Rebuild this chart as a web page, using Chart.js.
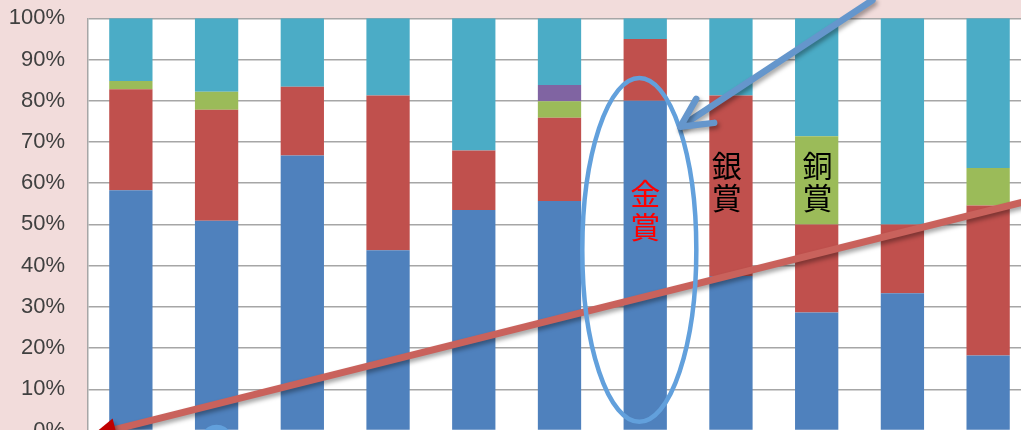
<!DOCTYPE html>
<html>
<head>
<meta charset="utf-8">
<script src="https://cdn.jsdelivr.net/npm/chart.js@4/dist/chart.umd.min.js"></script>
<style>
  html, body { margin: 0; padding: 0; background: #f2dcdb; overflow: hidden; width: 1021px; height: 430px; }
  #c { position: absolute; left: 0; top: 0; width: 1040px; height: 460px; }
</style>
</head>
<body>
<canvas id="c" width="1040" height="460"></canvas>
<script>
// ---- data (percent of each bar) ----
const categories = ['1','2','3','4','5','6','7','8','9','10','11'];
const gold   = [58.3, 50.9, 66.7, 43.75, 53.5, 55.7, 80.0, 37.5, 28.6, 33.3, 18.2];
const silver = [24.5, 26.9, 16.7, 37.5, 14.4, 20.2, 15.0, 43.75, 21.4, 16.7, 36.4];
const bronze = [2.0, 4.4, 0, 0, 0, 4.0, 0, 0, 21.4, 0, 9.1];
const other  = [0, 0, 0, 0, 0, 3.9, 0, 0, 0, 0, 0];
const none   = [15.2, 17.8, 16.6, 18.75, 32.1, 16.2, 5.0, 18.75, 28.6, 50.0, 36.3];
const yTicks = [0, 10, 20, 30, 40, 50, 60, 70, 80, 90, 100];

// annotation labels (category index, percent for each character)
const awardLabels = [
  { text: ['金', '賞'], idx: 6,    y: [57.4, 49.4], color: '#ff0000' },
  { text: ['銀', '賞'], idx: 6.95, y: [64.2, 56.6], color: '#000000' },
  { text: ['銅', '賞'], idx: 8.01, y: [64.2, 56.6], color: '#000000' }
];

const plotBg = {
  id: 'plotBg',
  beforeDraw(chart) {
    const { ctx, chartArea: a } = chart;
    ctx.save();
    ctx.fillStyle = '#ffffff';
    ctx.fillRect(a.left, a.top, a.right - a.left, a.bottom - a.top);
    ctx.restore();
  }
};

const overlay = {
  id: 'overlay',
  afterDraw(chart) {
    const ctx = chart.ctx;
    const xs = chart.scales.x, ys = chart.scales.y;
    const X = v => xs.getPixelForValue(v);
    const Y = v => ys.getPixelForValue(v);

    // red trend line with arrow head at lower-left
    ctx.save();
    ctx.shadowColor = 'rgba(0,0,0,0.35)';
    ctx.shadowBlur = 4; ctx.shadowOffsetX = 2; ctx.shadowOffsetY = 3;
    const rx0 = X(-0.31), ry0 = Y(-0.4), rx1 = X(10.6), ry1 = Y(56.4);
    ctx.strokeStyle = '#c9625c';
    ctx.lineWidth = 7;
    ctx.beginPath(); ctx.moveTo(rx0, ry0); ctx.lineTo(rx1, ry1); ctx.stroke();
    const ang = Math.atan2(ry0 - ry1, rx0 - rx1);
    ctx.fillStyle = '#c00000';
    ctx.beginPath();
    const tipx = rx0 + Math.cos(ang) * 12, tipy = ry0 + Math.sin(ang) * 12;
    ctx.moveTo(tipx, tipy);
    ctx.lineTo(tipx - Math.cos(ang - 0.45) * 26, tipy - Math.sin(ang - 0.45) * 26);
    ctx.lineTo(tipx - Math.cos(ang + 0.45) * 26, tipy - Math.sin(ang + 0.45) * 26);
    ctx.closePath(); ctx.fill();
    ctx.restore();

    // ellipse around gold bar
    ctx.save();
    ctx.strokeStyle = '#62a0dc';
    ctx.lineWidth = 4.5;
    const ex0 = X(5.266), ex1 = X(6.596), ey0 = Y(85.5), ey1 = Y(2.1);
    ctx.beginPath();
    ctx.ellipse((ex0 + ex1) / 2, (ey0 + ey1) / 2, (ex1 - ex0) / 2, (ey1 - ey0) / 2, 0, 0, Math.PI * 2);
    ctx.stroke();
    // small ellipse at bottom (mostly outside view)
    ctx.lineWidth = 5;
    ctx.beginPath();
    ctx.ellipse(X(1.0), Y(-6), 19, 28, 0, 0, Math.PI * 2);
    ctx.stroke();
    ctx.restore();

    // blue arrow
    ctx.save();
    ctx.shadowColor = 'rgba(0,0,0,0.35)';
    ctx.shadowBlur = 4; ctx.shadowOffsetX = 2; ctx.shadowOffsetY = 3;
    ctx.strokeStyle = '#6596cc';
    ctx.lineWidth = 6.5;
    ctx.lineCap = 'round'; ctx.lineJoin = 'round';
    const bx0 = X(8.65), by0 = Y(104.4), bx1 = X(6.41), by1 = Y(73.7);
    ctx.beginPath(); ctx.moveTo(bx0, by0); ctx.lineTo(bx1, by1); ctx.stroke();
    const ba = Math.atan2(by0 - by1, bx0 - bx1);
    ctx.beginPath();
    ctx.moveTo(bx1 + Math.cos(ba - 0.47) * 32, by1 + Math.sin(ba - 0.47) * 32);
    ctx.lineTo(bx1, by1);
    ctx.lineTo(bx1 + Math.cos(ba + 0.47) * 34, by1 + Math.sin(ba + 0.47) * 34);
    ctx.stroke();
    ctx.restore();

    // award labels
    ctx.save();
    ctx.font = '30px "Noto Sans CJK JP"';
    ctx.textAlign = 'center';
    ctx.textBaseline = 'middle';
    awardLabels.forEach(l => {
      ctx.fillStyle = l.color;
      l.text.forEach((ch, k) => ctx.fillText(ch, X(l.idx), Y(l.y[k])));
    });
    ctx.restore();
  }
};

new Chart(document.getElementById('c'), {
  type: 'bar',
  data: {
    labels: categories,
    datasets: [
      { label: '金賞', data: gold,   backgroundColor: '#4f81bd' },
      { label: '銀賞', data: silver, backgroundColor: '#c0504d' },
      { label: '銅賞', data: bronze, backgroundColor: '#9bbb59' },
      { label: 'その他', data: other, backgroundColor: '#8064a2' },
      { label: '賞なし', data: none,  backgroundColor: '#4bacc6' }
    ]
  },
  options: {
    responsive: false,
    maintainAspectRatio: false,
    devicePixelRatio: 1,
    animation: false,
    layout: { padding: { left: 0, top: 18.3, right: 9, bottom: 29.5 } },
    datasets: { bar: { barPercentage: 0.505, categoryPercentage: 1.0, borderWidth: 0 } },
    plugins: { legend: { display: false }, tooltip: { enabled: false } },
    scales: {
      x: { stacked: true, display: false },
      y: {
        stacked: true,
        min: 0, max: 100,
        afterFit(scale) { scale.width = 88; scale.paddingTop = 0; scale.paddingBottom = 0; },
        afterBuildTicks(scale) { scale.ticks = yTicks.map(v => ({ value: v })); },
        ticks: {
          padding: 23,
          color: '#404040',
          font: { family: '"Liberation Sans", Arial, sans-serif', size: 22 },
          callback: v => v + '%'
        },
        grid: { color: '#a6a6a6', lineWidth: 1.5, drawTicks: false },
        border: { display: true, color: '#a6a6a6', width: 1.5 }
      }
    }
  },
  plugins: [plotBg, overlay]
});
</script>
</body>
</html>
